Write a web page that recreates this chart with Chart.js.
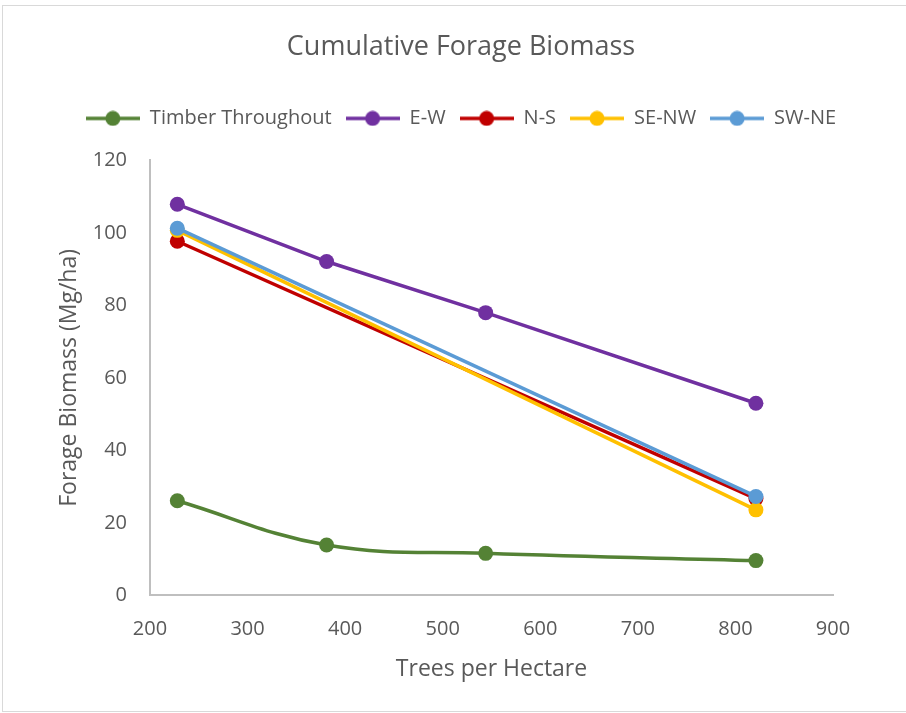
<!DOCTYPE html>
<html>
<head>
<meta charset="utf-8">
<script src="https://cdn.jsdelivr.net/npm/chart.js@4.4.1/dist/chart.umd.min.js"></script>
<style>
  html, body { margin: 0; padding: 0; background: #fff; }
  .moldura {
    position: absolute; left: 2px; top: 5px; width: 920px; height: 707px;
    border: 1px solid #d9d9d9; box-sizing: border-box;
  }
  .area { position: absolute; left: 0; top: 0; width: 906px; height: 713px; }
</style>
</head>
<body>
<div class="moldura"></div>
<div class="area"><canvas id="graficoForragem"></canvas></div>
<script>
/* Dados: árvores por hectare x biomassa de forragem acumulada (Mg/ha) */
const arvoresTodas = [228, 381, 544, 821];
const arvoresExtremos = [228, 821];

const timberThroughout = [26.1, 13.9, 11.6, 9.6];
const eW = [107.9, 92.1, 78.0, 53.0];
const nS = [97.7, 26.7];
const seNW = [100.7, 23.6];
const swNE = [101.3, 27.3];

const ticksX = [200, 300, 400, 500, 600, 700, 800, 900];
const ticksY = [0, 20, 40, 60, 80, 100, 120];

const corTexto = '#595959';
const fonte = "'Open Sans', sans-serif";

// Monta os pares {x, y} para o eixo linear
function pares(xs, ys) {
    return ys.map((v, i) => ({ x: xs[i], y: v }));
}

// Ícone da legenda: traço com bolinha no meio
function iconeLegenda(cor) {
    const c = document.createElement('canvas');
    c.width = 54; c.height = 16;
    const g = c.getContext('2d');
    g.strokeStyle = cor;
    g.lineWidth = 3.5;
    g.beginPath();
    g.moveTo(0, 8); g.lineTo(54, 8);
    g.stroke();
    g.fillStyle = cor;
    g.beginPath();
    g.arc(27, 8, 7.5, 0, Math.PI * 2);
    g.fill();
    return c;
}

const series = [
    { label: 'Timber Throughout', xs: arvoresTodas, ys: timberThroughout, cor: '#548235', curva: 0.4 },
    { label: 'E-W', xs: arvoresTodas, ys: eW, cor: '#7030a0', curva: 0 },
    { label: 'N-S', xs: arvoresExtremos, ys: nS, cor: '#c00000', curva: 0 },
    { label: 'SE-NW', xs: arvoresExtremos, ys: seNW, cor: '#ffc000', curva: 0 },
    { label: 'SW-NE', xs: arvoresExtremos, ys: swNE, cor: '#5b9bd5', curva: 0 }
];

// Espaço extra entre a legenda e a área do gráfico
const espacoLegenda = {
    id: 'espacoLegenda',
    beforeInit(chart) {
        const fitOriginal = chart.legend.fit;
        chart.legend.fit = function () {
            fitOriginal.bind(chart.legend)();
            this.height += 22;
        };
    }
};

const ctx = document.getElementById('graficoForragem').getContext('2d');

new Chart(ctx, {
    type: 'line',
    data: {
        datasets: series.map((s, i) => ({
            label: s.label,
            data: pares(s.xs, s.ys),
            borderColor: s.cor,
            backgroundColor: s.cor,
            pointBackgroundColor: s.cor,
            pointBorderWidth: 0,
            pointRadius: 7.5,
            borderWidth: 3.5,
            tension: s.curva,
            fill: false,
            order: series.length - i // a última série fica por cima
        }))
    },
    plugins: [espacoLegenda],
    options: {
        responsive: true,
        maintainAspectRatio: false,
        animation: false,
        layout: { padding: { left: 16, right: 0, top: 10, bottom: 26 } },
        plugins: {
            title: {
                display: true,
                text: 'Cumulative Forage Biomass',
                color: corTexto,
                font: { family: fonte, size: 27, weight: 'normal' },
                padding: { top: 21, bottom: 31 }
            },
            legend: {
                position: 'top',
                labels: {
                    color: corTexto,
                    font: { family: fonte, size: 20 },
                    usePointStyle: true,
                    pointStyleWidth: 54,
                    boxHeight: 16,
                    padding: 14,
                    generateLabels: () => series.map((s, i) => ({
                        text: s.label,
                        pointStyle: iconeLegenda(s.cor),
                        fontColor: corTexto,
                        datasetIndex: i,
                        hidden: false,
                        lineWidth: 0
                    }))
                }
            },
            tooltip: { enabled: false }
        },
        scales: {
            x: {
                type: 'linear',
                min: 200,
                max: 900,
                afterBuildTicks: (eixo) => { eixo.ticks = ticksX.map(v => ({ value: v })); },
                grid: { display: false, tickLength: 8 },
                border: { display: true, color: '#bfbfbf', width: 2 },
                ticks: { color: corTexto, font: { family: fonte, size: 20 }, padding: 14 },
                title: {
                    display: true,
                    text: 'Trees per Hectare',
                    color: corTexto,
                    font: { family: fonte, size: 23 },
                    padding: { top: 0 }
                }
            },
            y: {
                min: 0,
                max: 120,
                afterBuildTicks: (eixo) => { eixo.ticks = ticksY.map(v => ({ value: v })); },
                afterFit: (eixo) => { eixo.width = 134; },
                grid: { display: false, tickLength: 8 },
                border: { display: true, color: '#bfbfbf', width: 2 },
                ticks: { color: corTexto, font: { family: fonte, size: 20 }, padding: 15 },
                title: {
                    display: true,
                    text: 'Forage Biomass (Mg/ha)',
                    color: corTexto,
                    font: { family: fonte, size: 23 },
                    padding: { top: 40 }
                }
            },
            // margem direita vazia
            margemDireita: {
                position: 'right',
                display: true,
                grid: { display: false },
                border: { display: false },
                ticks: { display: false },
                afterFit: (eixo) => { eixo.width = 73; }
            }
        }
    }
});
</script>
</body>
</html>
